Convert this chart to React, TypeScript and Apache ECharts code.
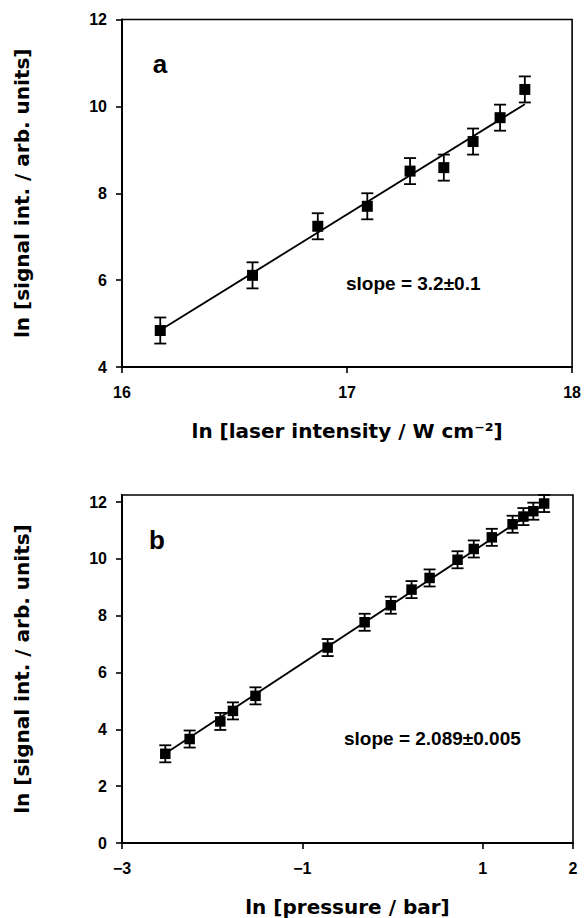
import React, { useEffect, useRef } from "react";
import * as echarts from "echarts";

// Panel a: ln laser intensity vs ln signal
const aX = [16.17, 16.58, 16.87, 17.09, 17.28, 17.43, 17.56, 17.68, 17.79];
const aY = [4.84, 6.11, 7.24, 7.7, 8.51, 8.59, 9.19, 9.74, 10.39];
const aErr = [0.3, 0.3, 0.3, 0.3, 0.3, 0.3, 0.3, 0.3, 0.3];
const aFitX = [16.18, 17.79];
const aFitY = [4.88, 10.05];
const aXTicks = [16, 17, 18];
const aYTicks = [4, 6, 8, 10, 12];

// Panel b: ln pressure vs ln signal
const bX = [-2.52, -2.25, -1.91, -1.77, -1.52, -0.72, -0.31, -0.02, 0.21, 0.41, 0.72, 0.9, 1.1, 1.33, 1.45, 1.56, 1.68];
const bY = [3.14, 3.66, 4.28, 4.65, 5.18, 6.88, 7.77, 8.37, 8.92, 9.33, 9.97, 10.35, 10.76, 11.22, 11.49, 11.68, 11.95];
const bErr = [0.3, 0.3, 0.3, 0.3, 0.3, 0.3, 0.3, 0.3, 0.3, 0.3, 0.3, 0.3, 0.3, 0.3, 0.3, 0.3, 0.3];
const bFitX = [-2.52, 1.68];
const bFitY = [3.15, 11.92];
const bXTicks = [-3, -1, 1, 2];
const bYTicks = [0, 2, 4, 6, 8, 10, 12];

const TICK_FONT = "Liberation Sans";
const TITLE_FONT = "DejaVu Sans";

function errRender(params: any, api: any) {
  const x = api.value(0);
  const y = api.value(1);
  const e = api.value(2);
  const top = api.coord([x, y + e]);
  const bot = api.coord([x, y - e]);
  const hw = 6;
  const style = { stroke: "#000", lineWidth: 1.8 };
  return {
    type: "group",
    children: [
      { type: "line", shape: { x1: top[0], y1: top[1], x2: bot[0], y2: bot[1] }, style },
      { type: "line", shape: { x1: top[0] - hw, y1: top[1], x2: top[0] + hw, y2: top[1] }, style },
      { type: "line", shape: { x1: bot[0] - hw, y1: bot[1], x2: bot[0] + hw, y2: bot[1] }, style },
    ],
  };
}

export default function App() {
  const ref = useRef<HTMLDivElement>(null);
  useEffect(() => {
    if (!ref.current) return;
    const chart = echarts.init(ref.current, undefined, { renderer: "svg" });
    const minusFmt = (v: number) => String(v).replace("-", "\u2212");
    const xAxisBase = (gridIndex: number, min: number, max: number, ticks: number[], name: string) => ({
      type: "value",
      gridIndex,
      min,
      max,
      name,
      nameLocation: "middle",
      nameGap: 54,
      nameTextStyle: { fontFamily: TITLE_FONT, fontWeight: "bold", fontSize: 20, color: "#000" },
      splitLine: { show: false },
      axisLine: { show: true, onZero: false, lineStyle: { color: "#000", width: 2 } },
      axisTick: { show: true, inside: false, length: 6, customValues: ticks, lineStyle: { color: "#000", width: 1.6 } },
      axisLabel: { customValues: ticks, margin: 17, formatter: minusFmt, fontFamily: TICK_FONT, fontWeight: "bold", fontSize: 16, color: "#000" },
    });
    const yAxisBase = (gridIndex: number, min: number, max: number, ticks: number[]) => ({
      type: "value",
      gridIndex,
      min,
      max,
      name: "ln [signal int. / arb. units]",
      nameLocation: "middle",
      nameGap: 90,
      nameTextStyle: { fontFamily: TITLE_FONT, fontWeight: "bold", fontSize: 20, color: "#000" },
      splitLine: { show: false },
      axisLine: { show: true, onZero: false, lineStyle: { color: "#000", width: 2 } },
      axisTick: { show: true, inside: false, length: 6, customValues: ticks, lineStyle: { color: "#000", width: 1.6 } },
      axisLabel: { customValues: ticks, margin: 15, fontFamily: TICK_FONT, fontWeight: "bold", fontSize: 16, color: "#000" },
    });
    const option: any = {
      animation: false,
      backgroundColor: "#fff",
      grid: [
        { left: 122, top: 19.5, width: 451, height: 347.5, show: true, borderColor: "#000", borderWidth: 1.6, backgroundColor: "transparent" },
        { left: 122, top: 495, width: 451, height: 350, show: true, borderColor: "#000", borderWidth: 1.6, backgroundColor: "transparent" },
      ],
      xAxis: [
        xAxisBase(0, 16, 18, aXTicks, "ln [laser intensity / W cm\u207B\u00B2]"),
        xAxisBase(1, -3, 2, bXTicks, "ln [pressure / bar]"),
      ],
      yAxis: [yAxisBase(0, 4, 12, aYTicks), yAxisBase(1, 0, 12.25, bYTicks)],
      series: [
        {
          type: "line",
          xAxisIndex: 0,
          yAxisIndex: 0,
          data: aFitX.map((x, i) => [x, aFitY[i]]),
          showSymbol: false,
          symbol: "none",
          lineStyle: { color: "#000", width: 1.8 },
        },
        {
          type: "custom",
          xAxisIndex: 0,
          yAxisIndex: 0,
          data: aX.map((x, i) => [x, aY[i], aErr[i]]),
          renderItem: errRender,
        },
        {
          type: "scatter",
          xAxisIndex: 0,
          yAxisIndex: 0,
          data: aX.map((x, i) => [x, aY[i]]),
          symbol: "rect",
          symbolSize: 11,
          itemStyle: { color: "#000", opacity: 1 },
        },
        {
          type: "line",
          xAxisIndex: 1,
          yAxisIndex: 1,
          data: bFitX.map((x, i) => [x, bFitY[i]]),
          showSymbol: false,
          symbol: "none",
          lineStyle: { color: "#000", width: 1.8 },
        },
        {
          type: "custom",
          xAxisIndex: 1,
          yAxisIndex: 1,
          data: bX.map((x, i) => [x, bY[i], bErr[i]]),
          renderItem: errRender,
        },
        {
          type: "scatter",
          xAxisIndex: 1,
          yAxisIndex: 1,
          data: bX.map((x, i) => [x, bY[i]]),
          symbol: "rect",
          symbolSize: 10.5,
          itemStyle: { color: "#000", opacity: 1 },
        },
      ],
      graphic: [
        { type: "text", x: 160, y: 64, style: { text: "a", font: `bold 26px "${TICK_FONT}"`, fill: "#000", align: "center", verticalAlign: "middle" } },
        { type: "text", x: 157, y: 540, style: { text: "b", font: `bold 26px "${TICK_FONT}"`, fill: "#000", align: "center", verticalAlign: "middle" } },
        { type: "text", x: 346, y: 283, style: { text: "slope = 3.2\u00B10.1", font: `bold 19px "${TICK_FONT}"`, fill: "#000", align: "left", verticalAlign: "middle" } },
        { type: "text", x: 344, y: 738, style: { text: "slope = 2.089\u00B10.005", font: `bold 19px "${TICK_FONT}"`, fill: "#000", align: "left", verticalAlign: "middle" } },
      ],
    };
    chart.setOption(option);
    return () => chart.dispose();
  }, []);
  return (
    <div
      ref={ref}
      style={{ position: "absolute", left: 0, top: 0, width: 584, height: 918, background: "#fff" }}
    />
  );
}
